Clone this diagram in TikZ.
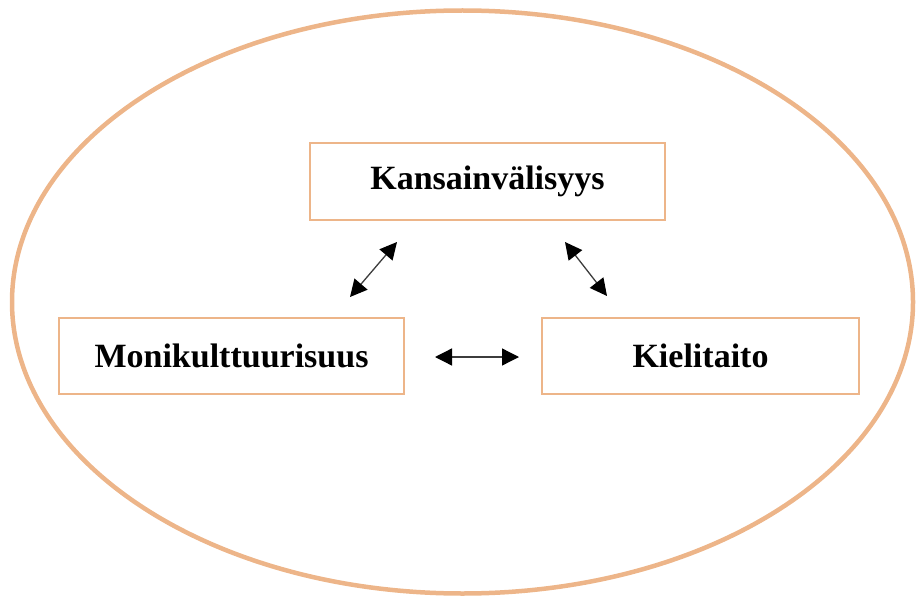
\documentclass[tikz,border=0pt]{standalone}
\usepackage{fontspec}
\setmainfont{Liberation Serif}
\usetikzlibrary{arrows.meta}
\definecolor{peach}{RGB}{237,181,137}
\definecolor{arrowgray}{RGB}{60,60,60}
\tikzset{
  conceptbox/.style={draw=peach, line width=2pt, rectangle, inner sep=0pt,
    font=\fontsize{34}{40}\selectfont\bfseries, text=black},
  linkarrow/.style={arrowgray, line width=1.3pt,
    {Triangle[length=17pt,width=17pt,fill=black,color=black]}-{Triangle[length=17pt,width=17pt,fill=black,color=black]}}
}
\begin{document}
\begin{tikzpicture}[x=1pt,y=-1pt]
\useasboundingbox (0,0) rectangle (917,596);
\draw[peach, line width=4.5pt] (462.5,302) ellipse [x radius=450.5, y radius=291.5];
\node[conceptbox, minimum width=355pt, minimum height=77pt] (kv) at (487.5,181.5) {Kansainvälisyys};
\node[conceptbox, minimum width=345pt, minimum height=76pt] (mk) at (231.5,356) {Monikulttuurisuus};
\node[conceptbox, minimum width=317pt, minimum height=76pt] (kt) at (700.5,356) {Kielitaito};
\coordinate (a1) at (350,297);
\coordinate (a2) at (397,242);
\coordinate (b1) at (565,242);
\coordinate (b2) at (607,296);
\coordinate (c1) at (435,357);
\coordinate (c2) at (519,357);
\draw[linkarrow] (a1) -- (a2);
\draw[linkarrow] (b1) -- (b2);
\draw[linkarrow] (c1) -- (c2);
\end{tikzpicture}
\end{document}
